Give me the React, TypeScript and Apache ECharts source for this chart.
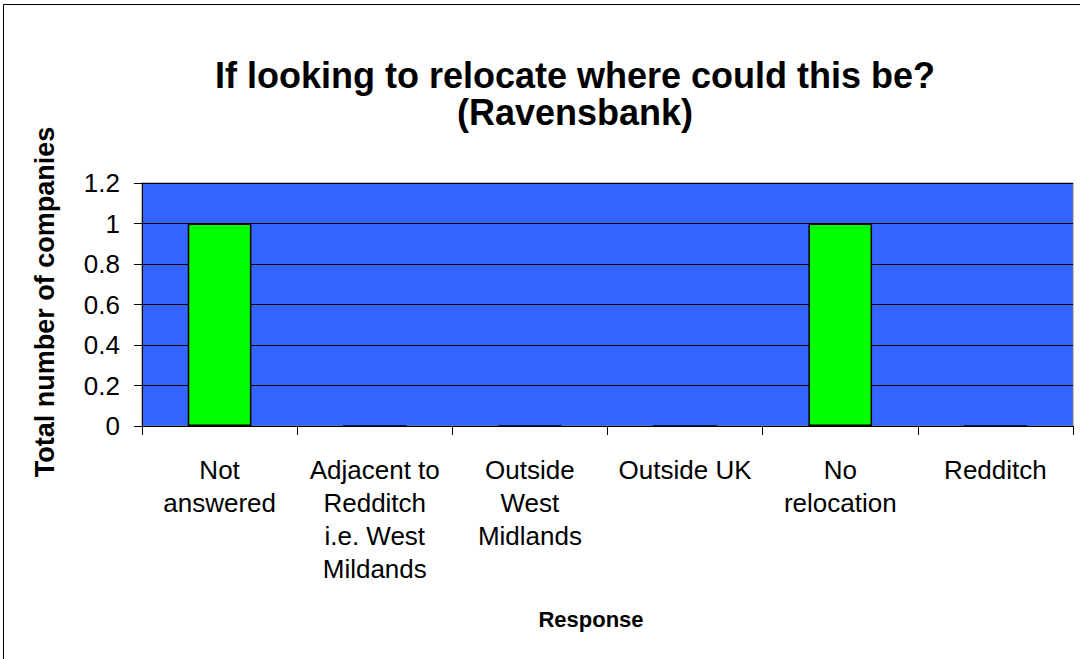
import React, { useEffect, useRef } from "react";
import * as echarts from "echarts";

const categories = [
  "Not\nanswered",
  "Adjacent to\nRedditch\ni.e. West\nMildands",
  "Outside\nWest\nMidlands",
  "Outside UK",
  "No\nrelocation",
  "Redditch",
];
const values = [1, 0, 0, 0, 1, 0];
const yTicks = { min: 0, max: 1.2, interval: 0.2 };
const titleLines = ["If looking to relocate where could this be?", "(Ravensbank)"];
const yAxisName = "Total number of companies";
const xAxisName = "Response";

export default function App() {
  const ref = useRef<HTMLDivElement>(null);
  useEffect(() => {
    document.body.style.margin = "0";
    const chart = echarts.init(ref.current!, null, { renderer: "svg" });
    const font = "'Liberation Sans', Arial, sans-serif";
    chart.setOption({
      animation: false,
      backgroundColor: "#ffffff",
      title: {
        text: titleLines.join("\n"),
        left: 575,
        top: 57,
        textAlign: "center",
        padding: 0,
        textStyle: {
          fontFamily: font,
          fontWeight: "bold",
          fontSize: 36,
          lineHeight: 37,
          color: "#000",
        },
      },
      graphic: [
        {
          type: "rect",
          shape: { x: 3.5, y: 4.5, width: 1300, height: 1000 },
          style: { fill: "none", stroke: "#000", lineWidth: 1 },
          silent: true,
        },
        {
          type: "text",
          x: 591,
          y: 619,
          style: {
            text: xAxisName,
            fontFamily: font,
            fontWeight: "bold",
            fontSize: 22,
            fill: "#000",
            textAlign: "center",
            textVerticalAlign: "middle",
          },
        },
        {
          type: "text",
          x: 45,
          y: 302,
          rotation: Math.PI / 2,
          style: {
            text: yAxisName,
            fontFamily: font,
            fontWeight: "bold",
            fontSize: 27,
            fill: "#000",
            textAlign: "center",
            textVerticalAlign: "middle",
          },
        },
      ],
      grid: {
        left: 142,
        top: 183,
        right: 7,
        bottom: 233,
        show: true,
        backgroundColor: "#3366FF",
        borderColor: "#808080",
        borderWidth: 1,
      },
      xAxis: {
        type: "category",
        data: categories,
        axisLine: { show: true, lineStyle: { color: "#000", width: 1 } },
        axisTick: {
          show: true,
          alignWithLabel: false,
          length: 9,
          lineStyle: { color: "#000" },
        },
        axisLabel: {
          interval: 0,
          margin: 27,
          fontFamily: font,
          fontSize: 26,
          lineHeight: 33,
          color: "#000",
          align: "center",
        },
        splitLine: { show: false },
      },
      yAxis: {
        type: "value",
        min: yTicks.min,
        max: yTicks.max,
        interval: yTicks.interval,
        axisLine: { show: true, lineStyle: { color: "#000", width: 1 } },
        axisTick: { show: true, length: 8, lineStyle: { color: "#000" } },
        axisLabel: {
          margin: 22,
          fontFamily: font,
          fontSize: 26,
          color: "#000",
          formatter: (v: number) => String(Math.round(v * 10) / 10),
        },
        splitLine: { show: true, lineStyle: { color: "#000", width: 1 } },
      },
      series: [
        {
          type: "bar",
          data: values,
          barWidth: "41%",
          itemStyle: { color: "#00FF00", borderColor: "#000", borderWidth: 1.5 },
        },
      ],
    });
    return () => chart.dispose();
  }, []);
  return <div ref={ref} style={{ width: 1080, height: 659 }} />;
}
